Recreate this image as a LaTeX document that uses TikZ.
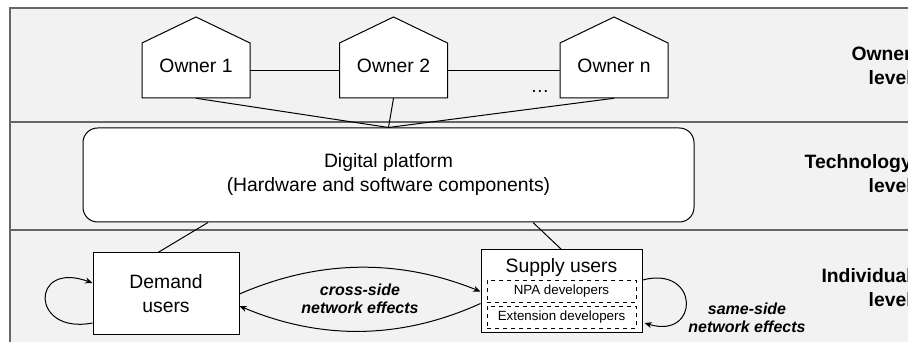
\documentclass[tikz,border=0pt]{standalone}
\usepackage{fontspec}
\setmainfont{Liberation Sans}
\usepackage{tikz}
\usetikzlibrary{arrows.meta,calc}

\begin{document}
\begin{tikzpicture}[x=0.75pt,y=-0.75pt]
\tikzstyle{band} = [fill=black!5, draw=black!60, line width=0.9pt]
\tikzstyle{house} = [draw, fill=white, line width=0.75pt]
\tikzstyle{owner} = [minimum width=81pt, minimum height=41.25pt, inner sep=0pt, text depth=7pt, font=\fontsize{14.5}{17}\selectfont]
\tikzstyle{userbox} = [draw, fill=white, line width=0.75pt, inner sep=0pt, align=center, font=\fontsize{14.5}{18}\selectfont]
\tikzstyle{devbox} = [draw, dashed, line width=0.6pt, minimum width=111.75pt, minimum height=16.5pt, inner sep=0pt, font=\fontsize{10}{12}\selectfont]
\tikzstyle{level} = [anchor=east, inner sep=0pt, align=right, font=\fontsize{14.5}{18}\selectfont\bfseries]
\tikzstyle{effect} = [inner sep=0pt, align=center, font=\fontsize{12}{13.5}\selectfont\bfseries\itshape]
\tikzstyle{netarrow} = [line width=0.75pt, -{Stealth[length=5.5pt,width=4.5pt]}]
\useasboundingbox (0,0) rectangle (908,342);
\clip (0,0) rectangle (908,342);
% levels
\draw[band] (10,8) rectangle (930,122);
\draw[band] (10,122) rectangle (930,230);
\draw[band] (10,230) rectangle (930,360);
\node[level] (lowner) at (912,66) {Owner\\level};
\node[level] (ltech) at (912,174) {Technology\\level};
\node[level] (lind) at (912,288) {Individual\\level};
% owners
\draw[house] (142,98) -- (142,43) -- (196,17) -- (250,43) -- (250,98) -- cycle;
\draw[house] (339.5,98) -- (339.5,43) -- (393.5,17) -- (447.5,43) -- (447.5,98) -- cycle;
\draw[house] (560,98) -- (560,43) -- (614,17) -- (668,43) -- (668,98) -- cycle;
\node[owner] (o1) at (196,70.5) {Owner 1};
\node[owner] (o2) at (393.5,70.5) {Owner 2};
\node[owner] (on) at (614,70.5) {Owner n};
\node[font=\fontsize{14}{17}\selectfont] (dots) at (540,92) {…};
\draw[line width=0.75pt] (o1) -- (o2);
\draw[line width=0.75pt] (o2) -- (on);
% platform
\node[userbox, rounded corners=11pt, minimum width=458.25pt, minimum height=70.5pt] (plat) at (388.5,175) {Digital platform\\(Hardware and software components)};
\draw[line width=0.75pt] (o1.south) -- (plat.north);
\draw[line width=0.75pt] (o2.south) -- (plat.north);
\draw[line width=0.75pt] (on.south) -- (plat.north);
% users
\node[userbox, minimum width=109.5pt, minimum height=61.5pt] (dem) at (166,294) {Demand\\users};
\node[userbox, minimum width=120.75pt, minimum height=62.25pt] (sup) at (561.5,291.5) {};
\node[font=\fontsize{14.5}{18}\selectfont, inner sep=0pt] (suptxt) at (561.5,268) {Supply users};
\node[devbox] (npa) at (561.5,291) {NPA developers};
\node[devbox] (ext) at (561.5,317) {Extension developers};
\draw[line width=0.75pt] ($(plat.south)+(-180.5,0)$) -- ($(dem.north)+(-8,0)$);
\draw[line width=0.75pt] ($(plat.south)+(144.5,0)$) -- (sup.north);
% network effects
\draw[netarrow] (dem.east) .. controls (320,259) and (400,259) .. (sup.west);
\draw[netarrow] ($(sup.west)+(0,12)$) .. controls (400,340) and (320,340) .. ($(dem.east)+(0,12)$);
\draw[netarrow] ($(dem.west)+(0,29)$) .. controls (30,335) and (30,260) .. ($(dem.west)+(0,-11)$);
\draw[netarrow] ($(sup.east)+(0,-11.5)$) .. controls (700,265) and (700,340) .. ($(sup.east)+(2,31.5)$);
\node[effect] (cross) at (360,299) {cross-side\\network effects};
\node[effect] (same) at (747,318) {same-side\\network effects};
\end{tikzpicture}
\end{document}
